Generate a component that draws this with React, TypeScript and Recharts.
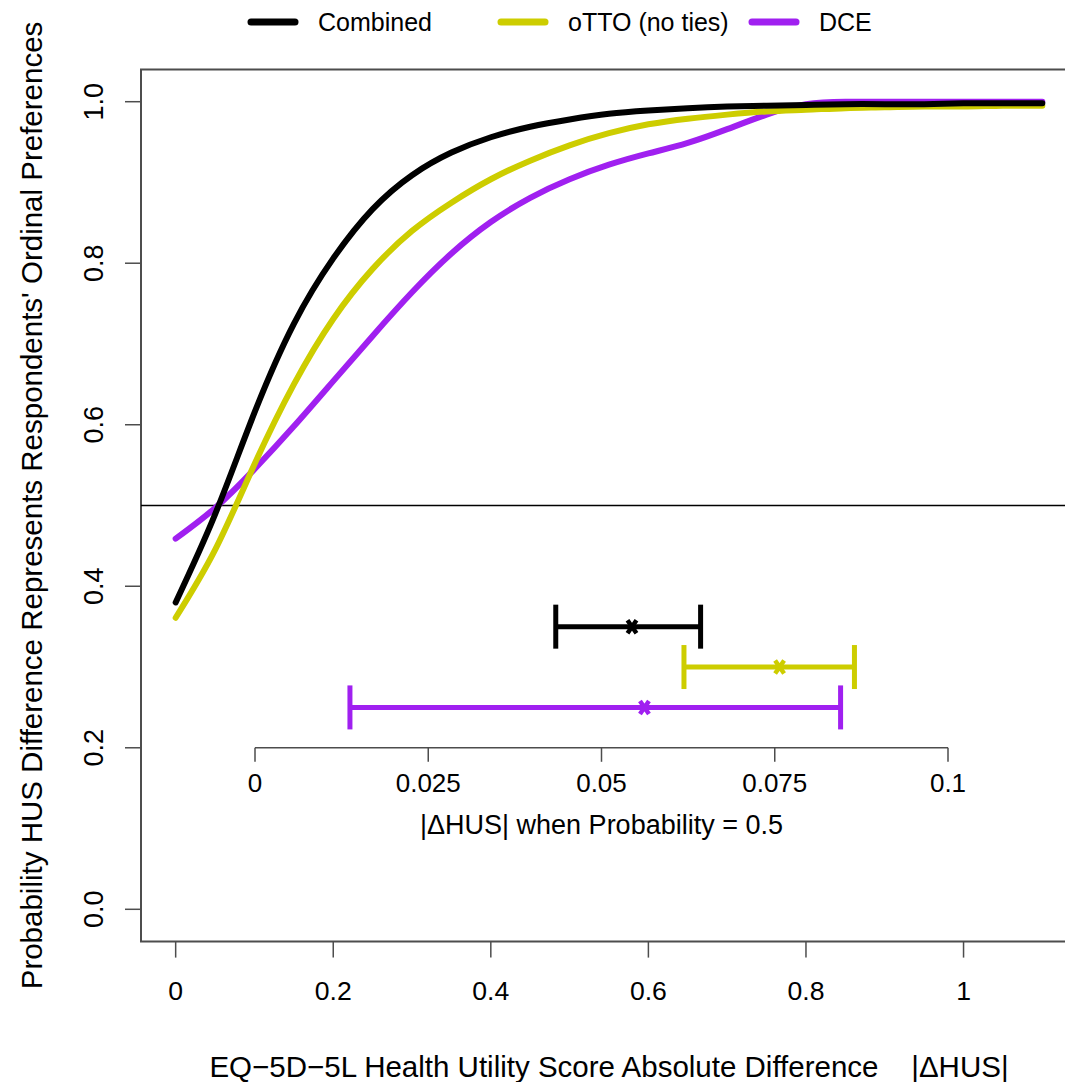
import React from 'react';
import {
  ComposedChart,
  Line,
  XAxis,
  YAxis,
  ReferenceLine,
  ReferenceArea,
  Legend,
  Scatter,
  ErrorBar,
  Label,
} from 'recharts';

// |ΔHUS| values where the curves were read
const husDiff = [0, 0.05, 0.1, 0.15, 0.2, 0.25, 0.3, 0.35, 0.4, 0.45, 0.5, 0.55, 0.6, 0.65, 0.7, 0.75, 0.8, 0.85, 0.9, 0.95, 1.0, 1.05, 1.1];
const combinedProb = [0.38, 0.489, 0.615, 0.725, 0.806, 0.867, 0.909, 0.937, 0.956, 0.969, 0.978, 0.985, 0.989, 0.992, 0.994, 0.995, 0.996, 0.997, 0.997, 0.997, 0.998, 0.998, 0.998];
const ottoProb = [0.361, 0.445, 0.551, 0.65, 0.731, 0.793, 0.84, 0.875, 0.904, 0.927, 0.946, 0.961, 0.972, 0.979, 0.984, 0.988, 0.99, 0.992, 0.993, 0.994, 0.994, 0.995, 0.995];
const dceProb = [0.459, 0.497, 0.545, 0.598, 0.654, 0.71, 0.764, 0.812, 0.851, 0.881, 0.904, 0.922, 0.936, 0.949, 0.966, 0.984, 0.997, 1.0, 1.0, 1.0, 1.0, 1.0, 1.0];

const xTicks = [0, 0.2, 0.4, 0.6, 0.8, 1];
const yTicks = [0, 0.2, 0.4, 0.6, 0.8, 1];

// inset: |ΔHUS| at probability 0.5 with intervals
const insetTicks = [0, 0.025, 0.05, 0.075, 0.1];
const insetTickLabels = ['0', '0.025', '0.05', '0.075', '0.1'];
const thresholdMid = [0.0544, 0.0757, 0.0562];
const thresholdLow = [0.0434, 0.0619, 0.0137];
const thresholdHigh = [0.0643, 0.0865, 0.0845];
const thresholdRow = [0.35, 0.3, 0.25];

const seriesNames = ['Combined', 'oTTO (no ties)', 'DCE'];
const seriesKeys = ['combined', 'otto', 'dce'];
const seriesColors = ['#000000', '#CDCD00', '#A020F0'];

const legendX = [248, 498, 749];

const curveData = husDiff.map((x, i) => ({
  x,
  combined: combinedProb[i],
  otto: ottoProb[i],
  dce: dceProb[i],
}));

const thresholdData = seriesNames.map((name, i) => [
  {
    name,
    x: thresholdMid[i],
    y: thresholdRow[i],
    err: [thresholdMid[i] - thresholdLow[i], thresholdHigh[i] - thresholdMid[i]],
  },
]);

const axisGrey = '#4d4d4d';

const YTick = (props: any) => {
  const { x, y, payload } = props;
  return (
    <text x={x} y={y} transform={`rotate(-90 ${x} ${y})`} textAnchor="middle" fontSize={27} fill="#000">
      {Number(payload.value).toFixed(1)}
    </text>
  );
};

const XTitle = (props: any) => {
  const vb = props.viewBox;
  return (
    <text x={vb.x + vb.width / 2} y={vb.y + 135} textAnchor="middle" fontSize={29.5} fill="#000" style={{ whiteSpace: 'pre' }}>
      {'EQ\u22125D\u22125L Health Utility Score Absolute Difference    |\u0394HUS|'}
    </text>
  );
};

const YTitle = (props: any) => {
  const vb = props.viewBox;
  const cy = vb.y + vb.height / 2;
  return (
    <text x={42} y={cy} transform={`rotate(-90 42 ${cy})`} textAnchor="middle" fontSize={29.5} fill="#000">
      Probability HUS Difference Represents Respondents' Ordinal Preferences
    </text>
  );
};

const InsetTitle = (props: any) => {
  const vb = props.viewBox;
  return (
    <text x={vb.x + vb.width / 2} y={vb.y + 86} textAnchor="middle" fontSize={27} fill="#000">
      {'|\u0394HUS| when Probability = 0.5'}
    </text>
  );
};

const renderLegend = () => (
  <svg width={1065} height={44} style={{ display: 'block', overflow: 'visible' }}>
    {seriesNames.map((name, i) => (
      <g key={name}>
        <line x1={legendX[i] + 3} x2={legendX[i] + 47} y1={22} y2={22} stroke={seriesColors[i]} strokeWidth={7} strokeLinecap="round" />
        <text x={legendX[i] + 70} y={31} fontSize={25} fill="#000">{name}</text>
      </g>
    ))}
  </svg>
);

const makeCross = (color: string) => (props: any) => {
  const { cx, cy } = props;
  return (
    <path
      d={`M${cx - 4.5},${cy - 6.5}L${cx + 4.5},${cy + 6.5}M${cx - 4.5},${cy + 6.5}L${cx + 4.5},${cy - 6.5}`}
      stroke={color}
      strokeWidth={4.5}
      fill="none"
    />
  );
};

export default function App() {
  return (
    <div
      style={{
        position: 'absolute',
        left: 0,
        top: 0,
        width: 1065,
        height: 1082,
        overflow: 'hidden',
        background: '#fff',
        fontFamily: '"Liberation Sans", Arial, Helvetica, sans-serif',
      }}
    >
      <div style={{ position: 'absolute', left: 0, top: 0 }}>
        <ComposedChart width={1078} height={1082} data={curveData} margin={{ top: 69.4, right: 1, bottom: 0.4, left: 0 }}>
          <XAxis
            dataKey="x"
            type="number"
            domain={[-0.044, 1.144]}
            allowDataOverflow
            ticks={xTicks}
            tickFormatter={(v: number) => String(v)}
            axisLine={false}
            tickLine={{ stroke: axisGrey, strokeWidth: 1.5 }}
            tickSize={16}
            tickMargin={24}
            height={140}
            tick={{ fontSize: 26.6, fill: '#000' }}
          >
            <Label content={XTitle} />
          </XAxis>
          <YAxis
            type="number"
            domain={[-0.04, 1.04]}
            allowDataOverflow
            ticks={yTicks}
            axisLine={false}
            tickLine={{ stroke: axisGrey, strokeWidth: 1.5 }}
            tickSize={16}
            tickMargin={22}
            width={141}
            tick={YTick}
          >
            <Label content={YTitle} />
          </YAxis>
          <ReferenceArea x1={-0.044} x2={1.144} y1={-0.04} y2={1.04} fill="none" stroke={axisGrey} strokeWidth={2} />
          <ReferenceLine y={0.5} stroke="#000" strokeWidth={1.5} />
          <Legend
            layout="vertical"
            align="center"
            verticalAlign="top"
            content={renderLegend}
            wrapperStyle={{ top: 0, left: 0, width: 1065, height: 0, overflow: 'visible' }}
          />
          {[2, 1, 0].map((i) => (
            <Line
              key={seriesKeys[i]}
              type="natural"
              dataKey={seriesKeys[i]}
              name={seriesNames[i]}
              stroke={seriesColors[i]}
              strokeWidth={6}
              strokeLinecap="round"
              dot={false}
              activeDot={false}
              isAnimationActive={false}
            />
          ))}
        </ComposedChart>
      </div>
      <div style={{ position: 'absolute', left: 0, top: 0 }}>
        <ComposedChart width={1065} height={1082} margin={{ top: 69.4, right: 117, bottom: 234.2, left: 255 }}>
          <XAxis
            dataKey="x"
            type="number"
            domain={[0, 0.1]}
            allowDataOverflow
            ticks={insetTicks}
            tickFormatter={(v: number) => insetTickLabels[insetTicks.indexOf(v)] ?? String(v)}
            axisLine={{ stroke: axisGrey, strokeWidth: 1.5 }}
            tickLine={{ stroke: axisGrey, strokeWidth: 1.5 }}
            tickSize={14}
            tickMargin={12}
            height={100}
            tick={{ fontSize: 26, fill: '#000' }}
          >
            <Label content={InsetTitle} />
          </XAxis>
          <YAxis dataKey="y" type="number" domain={[0.2, 1.04]} allowDataOverflow hide />
          {thresholdData.map((d, i) => (
            <Scatter
              key={seriesNames[i]}
              name={seriesNames[i]}
              data={d}
              fill={seriesColors[i]}
              shape={makeCross(seriesColors[i])}
              isAnimationActive={false}
            >
              <ErrorBar dataKey="err" direction="x" width={22} stroke={seriesColors[i]} strokeWidth={5} isAnimationActive={false} />
            </Scatter>
          ))}
        </ComposedChart>
      </div>
    </div>
  );
}
